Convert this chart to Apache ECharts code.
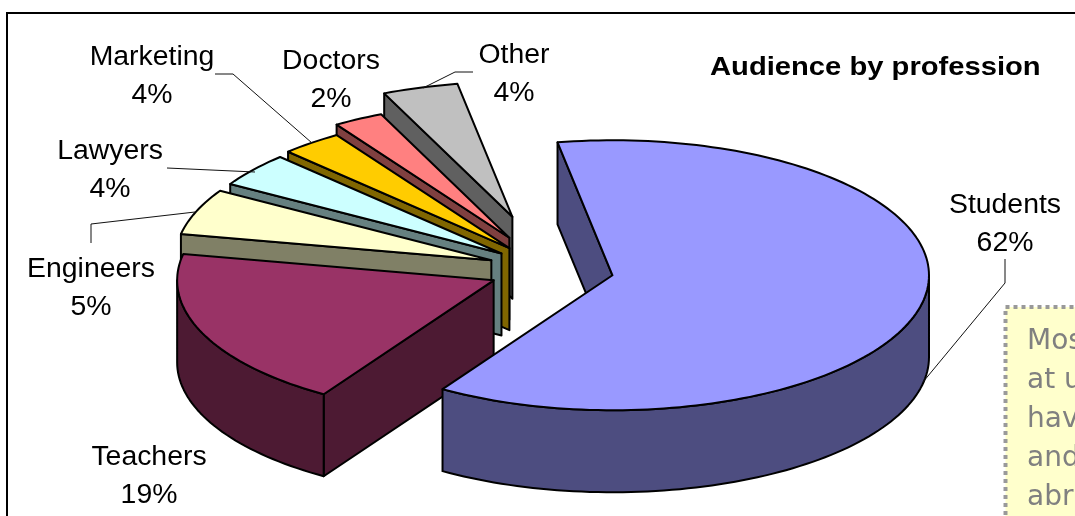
<!DOCTYPE html>
<html><head><meta charset="utf-8">
<style>html,body{margin:0;padding:0;background:#fff;overflow:hidden}#c{width:1075px;height:516px}</style>
<script src="https://cdn.jsdelivr.net/npm/echarts@6/dist/echarts.min.js"></script>
</head><body><div id="c"></div>
<script>
var categories = ['Students','Teachers','Engineers','Lawyers','Marketing','Doctors','Other'];
var percentLabels = ['62%','19%','5%','4%','4%','2%','4%'];
var shares = [61.8, 19.1, 5.49, 4.06, 3.14, 2.55, 3.86];
var explosion = [0.2, 0.195, 0.2, 0.197, 0.207, 0.272, 0.412];
var topColors = ['#9999FF','#993366','#FFFFCC','#CCFFFF','#FFCC00','#FF8080','#C0C0C0'];
var sideColors = ['#4D4D80','#4D1A33','#808066','#668080','#806600','#804040','#606060'];
var labelCenters = [[1005,205],[149,457],[91,269],[110,151],[152,57],[331,61],[514,55]];
var leaders = [
  [[1005,259],[1005,283],[923,382]],
  null,
  [[91,243],[91,224],[195,212]],
  [[167,168],[255,172]],
  [[215,74],[233,74],[312,143]],
  null,
  [[473,72],[455,72],[423,88]]
];
var noteLines = ['Most','at u','hav','and','abr'];

var CX = 550.4, CY = 270, RX = 316.5, RY = 135, DEPTH = 82, START_DEG = -10;
var rad = Math.PI / 180;

var total = shares.reduce(function (a, b) { return a + b; }, 0);
var acc = START_DEG, rows = [];
shares.forEach(function (v, i) {
  var sweep = v / total * 360;
  rows.push([acc, acc + sweep, explosion[i], i]);
  acc += sweep;
});
rows.reverse();

function rim(cx, cy, t) { return [cx + RX * Math.sin(t * rad), cy - RY * Math.cos(t * rad)]; }
function down(p) { return [p[0], p[1] + DEPTH]; }
function arc(cx, cy, a, b) {
  var pts = [], n = Math.max(2, Math.ceil((b - a) / 1.5));
  for (var k = 0; k <= n; k++) pts.push(rim(cx, cy, a + (b - a) * k / n));
  return pts;
}
function poly(points, fill) {
  return { type: 'polygon', shape: { points: points },
    style: { fill: fill, stroke: '#000', lineWidth: 2, lineJoin: 'round' } };
}
function renderItem(params, api) {
  var a = api.value(0), b = api.value(1), e = api.value(2), i = api.value(3);
  var mid = (a + b) / 2;
  var cx = CX + e * RX * Math.sin(mid * rad), cy = CY - e * RY * Math.cos(mid * rad);
  var apex = [cx, cy], kids = [], side = sideColors[i];
  function face(t) {
    var p = rim(cx, cy, t);
    kids.push(poly([apex, p, down(p), down(apex)], side));
  }
  if (-Math.sin(a * rad) > 0) face(a);
  if (Math.sin(b * rad) > 0) face(b);
  var lo = Math.max(a, 90), hi = Math.min(b, 270);
  if (hi > lo) {
    var top = arc(cx, cy, lo, hi);
    kids.push(poly(top.concat(top.map(down).reverse()), side));
  }
  kids.push(poly([apex].concat(arc(cx, cy, a, b)), topColors[i]));
  return { type: 'group', children: kids };
}

var LABEL_FONT = '"Liberation Sans", Arial, sans-serif';
var graphics = [
  { type: 'rect', z: 0, shape: { x: 7, y: 13, width: 1200, height: 700 },
    style: { fill: 'none', stroke: '#000', lineWidth: 2 }, silent: true },
  { type: 'rect', z: 1, shape: { x: 1005.5, y: 307, width: 200, height: 300 },
    style: { fill: '#FFFFCC', stroke: '#999999', lineWidth: 4, lineDash: [4, 4] }, silent: true },
  { type: 'text', z: 20, x: 710, y: 68, scaleX: 1.122,
    style: { text: 'Audience by profession', fill: '#000', font: 'bold 26px ' + LABEL_FONT, textVerticalAlign: 'middle' }, silent: true }
];
noteLines.forEach(function (s, i) {
  graphics.push({ type: 'text', z: 2, x: 1027, y: 342 + i * 39,
    style: { text: s, fill: '#808080', font: '28px "DejaVu Sans", Verdana, sans-serif', textVerticalAlign: 'middle' }, silent: true });
});
categories.forEach(function (name, i) {
  var c = labelCenters[i];
  graphics.push({ type: 'text', z: 20, x: c[0], y: c[1],
    style: { text: name, fill: '#000', font: '28.4px ' + LABEL_FONT, textAlign: 'center', textVerticalAlign: 'middle' }, silent: true });
  graphics.push({ type: 'text', z: 20, x: c[0], y: c[1] + 38,
    style: { text: percentLabels[i], fill: '#000', font: '28.4px ' + LABEL_FONT, textAlign: 'center', textVerticalAlign: 'middle' }, silent: true });
  if (leaders[i]) graphics.push({ type: 'polyline', z: 20, shape: { points: leaders[i] },
    style: { fill: 'none', stroke: '#111', lineWidth: 1 }, silent: true });
});

var chart = echarts.init(document.getElementById('c'), null, { renderer: 'canvas' });
chart.setOption({
  animation: false,
  backgroundColor: '#fff',
  series: [{ type: 'custom', coordinateSystem: 'none', renderItem: renderItem,
    encode: { value: [0, 1, 2, 3] }, data: rows, z: 10, silent: true }],
  graphic: { elements: graphics }
});
</script></body></html>
